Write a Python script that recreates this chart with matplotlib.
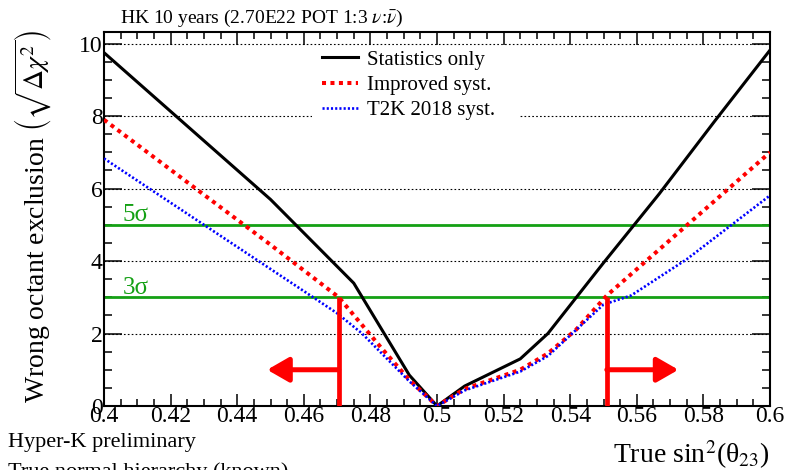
import matplotlib
matplotlib.use("Agg")
import matplotlib.pyplot as plt
from matplotlib.ticker import MultipleLocator, FuncFormatter
from matplotlib.patches import Rectangle

plt.rcParams['font.family'] = ['Liberation Serif', 'DejaVu Serif']
plt.rcParams['mathtext.fontset'] = 'stix'

# Wrong-octant exclusion sqrt(delta chi^2) versus true sin^2(theta_23)
x_stat = [0.400, 0.450, 0.475, 0.4917, 0.500, 0.5083, 0.525, 0.5333, 0.550, 0.5667, 0.5833, 0.600]
y_stat = [9.75, 5.70, 3.39, 0.85, 0.00, 0.55, 1.30, 2.00, 3.95, 5.85, 7.85, 9.82]

x_impr = [0.400, 0.450, 0.4705, 0.4833, 0.4917, 0.500, 0.5083, 0.525, 0.5333, 0.5417, 0.551, 0.600]
y_impr = [7.90, 4.45, 3.00, 1.60, 0.72, 0.00, 0.47, 1.00, 1.45, 2.10, 3.05, 7.00]

x_t2k = [0.400, 0.430, 0.4628, 0.470, 0.4775, 0.4917, 0.500, 0.5083, 0.525, 0.5333, 0.550, 0.5583, 0.575, 0.600]
y_t2k = [6.83, 5.00, 3.00, 2.56, 2.00, 0.68, 0.00, 0.43, 0.95, 1.38, 2.80, 3.05, 4.05, 5.81]

series_labels = ["Statistics only", "Improved syst.", "T2K 2018 syst."]

sigma_levels = [5, 3]
sigma_labels = ["5σ", "3σ"]

# 3 sigma octant-determination boundaries (improved systematics)
bound_low = 0.4705
bound_high = 0.551
bound_level = 3.0

x_ticks_major = 0.02
y_ticks_major = 2

fig = plt.figure(figsize=(7.86, 4.70), dpi=100)
ax = fig.add_axes([104/786, 1 - 406/470, 666/786, 374/470])

ax.set_xlim(0.4, 0.6)
ax.set_ylim(0, 10.32)

# horizontal dotted grid
ax.set_axisbelow(True)
ax.yaxis.grid(True, which='major', linestyle=(0, (1.5, 2.0)), color='black', lw=0.8)

# sigma reference lines
green = '#14a014'
for lvl, lab in zip(sigma_levels, sigma_labels):
    ax.axhline(lvl, color=green, lw=2.0, zorder=2)
    ax.text(0.4057, lvl + 0.1, lab, color=green, fontsize=18, ha='left', va='baseline', zorder=3)

l1, = ax.plot(x_stat, y_stat, color='black', lw=2.2, solid_joinstyle='miter', zorder=4)
l2, = ax.plot(x_impr, y_impr, color='red', lw=2.9, linestyle=(0, (1.0, 1.1)), zorder=5)
l3, = ax.plot(x_t2k, y_t2k, color='blue', lw=1.9, linestyle=(0, (0.8, 0.8)), zorder=6)

# boundary markers with arrows
for xb, xtip in [(bound_low, 0.449), (bound_high, 0.5725)]:
    ax.plot([xb, xb], [0, bound_level], color='red', lw=3.4, solid_capstyle='butt', zorder=7)
    ax.annotate('', xy=(xtip, 1.0), xytext=(xb, 1.0),
                arrowprops=dict(arrowstyle='-|>,head_length=0.87,head_width=0.5',
                                color='red', lw=3.6, mutation_scale=15,
                                shrinkA=0, shrinkB=0),
                zorder=7)

# legend with opaque white box
ax.add_patch(Rectangle((0.3123, 0.770), 0.3123, 0.192, transform=ax.transAxes,
                       facecolor='white', edgecolor='none', zorder=1))
leg = ax.legend([l1, l2, l3], series_labels, loc='upper left',
                bbox_to_anchor=(0.315, 0.974), borderaxespad=0, borderpad=0.4,
                frameon=False, fontsize=15, handlelength=1.7, handletextpad=0.45,
                labelspacing=0.27)

# ticks
ax.xaxis.set_major_locator(MultipleLocator(x_ticks_major))
ax.xaxis.set_minor_locator(MultipleLocator(0.005))
ax.yaxis.set_major_locator(MultipleLocator(y_ticks_major))
ax.yaxis.set_minor_locator(MultipleLocator(0.5))
ax.xaxis.set_major_formatter(FuncFormatter(lambda v, p: f"{v:g}"))
ax.yaxis.set_major_formatter(FuncFormatter(lambda v, p: f"{v:g}"))
ax.tick_params(axis='both', which='both', direction='in', top=True, right=True,
               labelsize=17, width=1.1)
ax.tick_params(axis='x', which='major', length=9, pad=0)
ax.tick_params(axis='x', which='minor', length=5)
ax.tick_params(axis='y', which='major', length=13, pad=1)
ax.tick_params(axis='y', which='minor', length=5.5)
for s in ax.spines.values():
    s.set_linewidth(1.5)

# texts
fig.text(120/786, 1 - 23/470, r"HK 10 years (2.70E22 POT 1:3 $\nu$:$\bar{\nu}$)",
         fontsize=14, ha='left', va='baseline')
fig.text(33/786, 1 - 216/470, r"Wrong octant exclusion $\left(\sqrt{\Delta\chi^{2}}\right)$",
         fontsize=20, rotation=90, ha='center', va='center')
fig.text(770/786, 7/470, r"True sin$^{2}$(θ$_{23}$)", fontsize=20, ha='right', va='baseline')
fig.text(8/786, 23/470, "Hyper-K preliminary", fontsize=16, ha='left', va='baseline')
fig.text(8/786, -7/470, "True normal hierarchy (known)", fontsize=16, ha='left', va='baseline')

fig.savefig("out.png", dpi=100)
